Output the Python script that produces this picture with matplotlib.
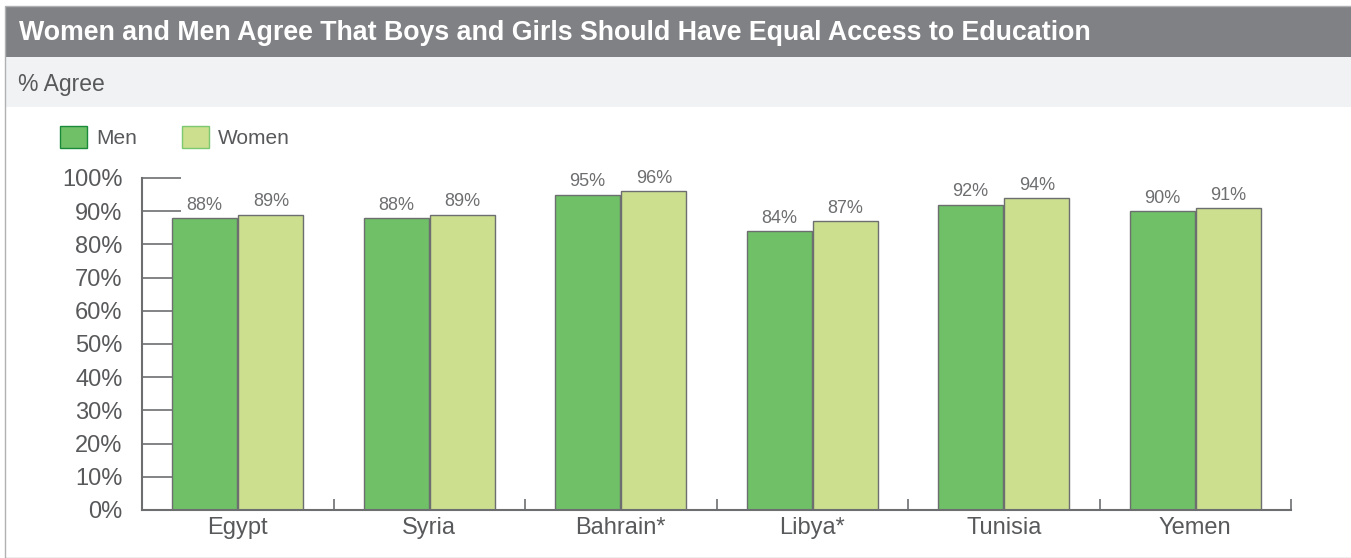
import matplotlib
matplotlib.use("Agg")
import matplotlib.pyplot as plt
from matplotlib.patches import Rectangle, Patch
import numpy as np

plt.rcParams['font.family'] = ['Liberation Sans', 'DejaVu Sans']

countries = ["Egypt", "Syria", "Bahrain*", "Libya*", "Tunisia", "Yemen"]
men = [88, 88, 95, 84, 92, 90]
women = [89, 89, 96, 87, 94, 91]
yticks = [0, 10, 20, 30, 40, 50, 60, 70, 80, 90, 100]

title = "Women and Men Agree That Boys and Girls Should Have Equal Access to Education"
subtitle = "% Agree"

txt = "#58595b"
edge = "#6d6e70"
c_men = "#6fc067"
c_women = "#cbdf8f"

W, H = 1351, 558
fig = plt.figure(figsize=(W / 100, H / 100), dpi=100)

# header bands
fig.patches.append(Rectangle((5 / W, 1 - 57 / H), 1, 51 / H, transform=fig.transFigure,
                             facecolor="#808184", edgecolor="none", zorder=0))
fig.patches.append(Rectangle((5 / W, 1 - 107 / H), 1, 50 / H, transform=fig.transFigure,
                             facecolor="#f1f2f3", edgecolor="none", zorder=0))
fig.patches.append(Rectangle((5 / W, 0), 1, 1 - 6 / H, transform=fig.transFigure,
                             facecolor="none", edgecolor="#b0b1b3", lw=1, zorder=1))
fig.text(19 / W, 1 - 33 / H, title, color="white", fontsize=19.3, fontweight="bold",
         va="center", ha="left")
fig.text(18 / W, 1 - 84 / H, subtitle, color=txt, fontsize=16.5, va="center", ha="left")

ax = fig.add_axes([142 / W, 1 - 510 / H, (1291 - 142) / W, (510 - 178) / H])
x = np.arange(len(countries))
w = 0.34
b1 = ax.bar(x - w / 2 - 0.003, men, w, color=c_men, edgecolor=edge, lw=1, zorder=2)
b2 = ax.bar(x + w / 2 + 0.003, women, w, color=c_women, edgecolor=edge, lw=1, zorder=2)
for bars in (b1, b2):
    for r in bars:
        ax.annotate(f"{r.get_height():.0f}%", (r.get_x() + r.get_width() / 2, r.get_height()),
                    xytext=(0, 3), textcoords="offset points", ha="center", va="bottom",
                    fontsize=13, color="#6d6e70")

ax.set_xlim(-0.5, len(countries) - 0.5)
ax.set_ylim(0, 100)
ax.set_yticks(yticks)
ax.set_yticklabels([f"{v}%" for v in yticks])
ax.set_xticks(x)
ax.set_xticklabels(countries)
ax.set_xticks(np.arange(-0.5, len(countries)), minor=True)
ax.tick_params(axis="y", direction="in", length=28, width=1.2, color=edge, labelsize=17,
               labelcolor=txt, pad=14)
ax.tick_params(axis="x", which="major", length=0, labelsize=17, labelcolor=txt, pad=5)
ax.tick_params(axis="x", which="minor", direction="in", length=8, width=1.2, color=edge)
for s in ("top", "right"):
    ax.spines[s].set_visible(False)
for s in ("left", "bottom"):
    ax.spines[s].set_color(edge)
    ax.spines[s].set_linewidth(1.5)

handles = [Patch(facecolor=c_men, edgecolor="#1a8a3a", label="Men"),
           Patch(facecolor=c_women, edgecolor="#7cc870", label="Women")]
fig.legend(handles=handles, loc="upper left", bbox_to_anchor=(41 / W, 1 - 107 / H), ncol=2,
           frameon=False, fontsize=15, labelcolor=txt, handlelength=1.3, handleheight=1.3,
           handletextpad=0.45, columnspacing=2.15)

fig.savefig("out.png", dpi=100)
